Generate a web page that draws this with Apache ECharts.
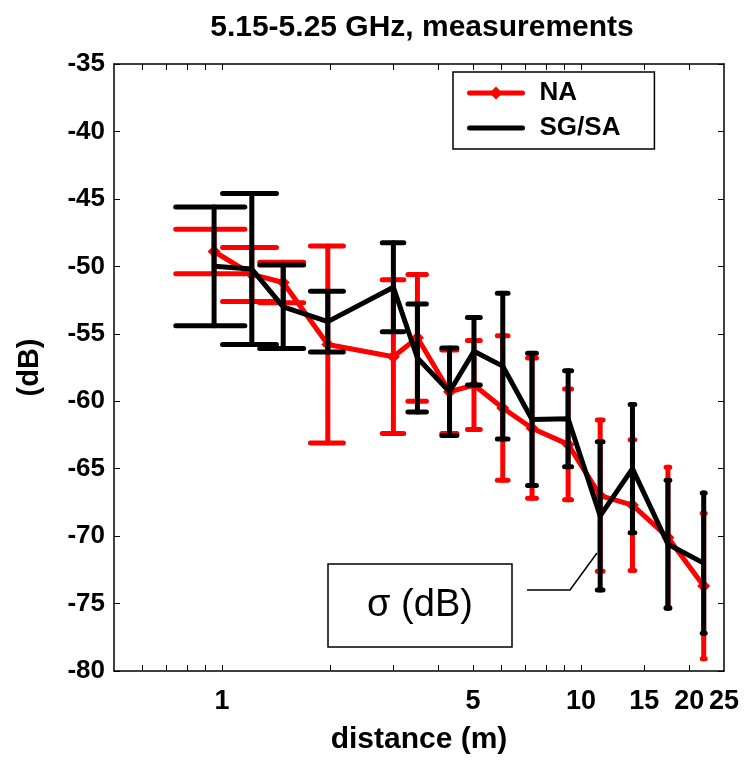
<!DOCTYPE html>
<html>
<head>
<meta charset="utf-8">
<script src="https://cdn.jsdelivr.net/npm/echarts@6/dist/echarts.min.js"></script>
<style>
  html, body { margin: 0; padding: 0; background: #fff; }
  #main { width: 744px; height: 760px; }
</style>
</head>
<body>
<div id="main"></div>
<script>
// distance of each measurement point (m)
const distance = [0.95, 1.21, 1.48, 1.97, 3.0, 3.5, 4.3, 5.03, 6.05, 7.3, 9.2, 11.3, 13.9, 17.45, 21.95];
// NA: mean and std dev (dB)
const naMean  = [-48.9, -50.6, -51.2, -55.8, -56.7, -55.3, -59.3, -58.8, -60.5, -62.0, -63.2, -67.0, -67.7, -70.1, -73.7];
const naSigma = [1.65, 2.0, 1.5, 7.3, 5.7, 4.7, 3.1, 3.3, 5.35, 5.2, 4.1, 5.6, 4.85, 5.2, 5.4];
// SG/SA: mean and std dev (dB)
const sgMean  = [-50.0, -50.2, -53.0, -54.1, -51.55, -56.8, -59.3, -56.3, -57.4, -61.35, -61.3, -68.5, -65.0, -70.6, -72.0];
const sgSigma = [4.4, 5.6, 3.1, 2.25, 3.3, 4.0, 3.25, 2.5, 5.4, 4.9, 3.55, 5.5, 4.75, 4.75, 5.2];

const xLabelValues = [1, 5, 10, 15, 20, 25];
const xTickValues = [0.6, 0.7, 0.8, 0.9, 1, 2, 3, 4, 5, 6, 7, 8, 9, 10, 15, 20];
const capHalf = 0.207; // tee half width, in metres (matlab style)

const FONT = 'Liberation Sans, Arial, sans-serif';

var chartDom = document.getElementById('main');
var myChart = echarts.init(chartDom, null, { renderer: 'canvas' });

function errRender(color) {
  return function (params, api) {
    const x = api.value(0), m = api.value(1), s = api.value(2);
    const hi = api.coord([x, m + s]);
    const lo = api.coord([x, m - s]);
    const hl = api.coord([x - capHalf, m + s]), hr = api.coord([x + capHalf, m + s]);
    const ll = api.coord([x - capHalf, m - s]), lr = api.coord([x + capHalf, m - s]);
    const style = { stroke: color, lineWidth: 5, lineCap: 'round' };
    return {
      type: 'group',
      children: [
        { type: 'line', shape: { x1: hi[0], y1: hi[1], x2: lo[0], y2: lo[1] }, style: style },
        { type: 'line', shape: { x1: hl[0], y1: hl[1], x2: hr[0], y2: hr[1] }, style: style },
        { type: 'line', shape: { x1: ll[0], y1: ll[1], x2: lr[0], y2: lr[1] }, style: style }
      ]
    };
  };
}

const zip3 = (a, b, c) => a.map((v, i) => [v, b[i], c[i]]);
const zip2 = (a, b) => a.map((v, i) => [v, b[i]]);

const logAxis = {
  type: 'log',
  logBase: 10,
  min: 0.5,
  max: 25,
  axisLine: { show: true, onZero: false, lineStyle: { color: '#000', width: 1.5 } },
  splitLine: { show: false },
  minorTick: { show: false }
};

var option = {
  backgroundColor: '#fff',
  animation: false,
  title: {
    text: '5.15-5.25 GHz, measurements',
    left: 417,
    top: 8,
    textAlign: 'center',
    textStyle: { fontFamily: FONT, fontSize: 30, fontWeight: 'bold', color: '#000' }
  },
  grid: { left: 114, right: 20, top: 64, bottom: 86, containLabel: false },
  legend: {
    data: [
      { name: 'NA' },
      { name: 'SG/SA', itemStyle: { opacity: 0 } }
    ],
    orient: 'vertical',
    left: 453,
    top: 72,
    padding: [8, 34, 8, 14],
    itemWidth: 53,
    itemHeight: 16,
    itemGap: 9,
    borderColor: '#000',
    borderWidth: 1.5,
    backgroundColor: '#fff',
    lineStyle: { width: 5, cap: 'round' },
    textStyle: { fontFamily: FONT, fontSize: 26, fontWeight: 'bold', color: '#000', lineHeight: 26, padding: [0, 0, 0, 12] }
  },
  xAxis: [
    Object.assign({}, logAxis, {
      position: 'bottom',
      name: 'distance (m)',
      nameLocation: 'middle',
      nameGap: 54,
      nameTextStyle: { fontFamily: FONT, fontSize: 30, fontWeight: 'bold', color: '#000' },
      axisTick: { show: true, inside: true, length: 6, customValues: xTickValues, lineStyle: { color: '#000', width: 1 } },
      axisLabel: {
        show: true, customValues: xLabelValues, margin: 17,
        fontFamily: FONT, fontSize: 27, fontWeight: 'bold', color: '#000',
        formatter: v => String(Math.round(v))
      }
    }),
    Object.assign({}, logAxis, {
      position: 'top',
      axisTick: { show: true, inside: true, length: 6, customValues: xTickValues, lineStyle: { color: '#000', width: 1 } },
      axisLabel: { show: false }
    })
  ],
  yAxis: [
    {
      type: 'value',
      min: -80,
      max: -35,
      interval: 5,
      position: 'left',
      name: '(dB)',
      nameLocation: 'middle',
      nameGap: 70,
      nameRotate: 90,
      nameTextStyle: { fontFamily: FONT, fontSize: 29, fontWeight: 'bold', color: '#000' },
      axisLine: { show: true, onZero: false, lineStyle: { color: '#000', width: 1.5 } },
      axisTick: { show: true, inside: true, length: 6, lineStyle: { color: '#000' } },
      axisLabel: { margin: 9, fontFamily: FONT, fontSize: 26, fontWeight: 'bold', color: '#000' },
      splitLine: { show: false }
    },
    {
      type: 'value',
      min: -80,
      max: -35,
      interval: 5,
      position: 'right',
      axisLine: { show: true, onZero: false, lineStyle: { color: '#000', width: 1.5 } },
      axisTick: { show: true, inside: true, length: 6, lineStyle: { color: '#000' } },
      axisLabel: { show: false },
      splitLine: { show: false }
    }
  ],
  series: [
    {
      name: 'NA sigma',
      type: 'custom',
      renderItem: errRender('#ff0000'),
      data: zip3(distance, naMean, naSigma),
      encode: { x: 0, y: 1 },
      z: 2,
      silent: true
    },
    {
      name: 'NA',
      type: 'line',
      data: zip2(distance, naMean),
      symbol: 'diamond',
      symbolSize: 13,
      showSymbol: true,
      color: '#ff0000',
      itemStyle: { color: '#ff0000' },
      lineStyle: { color: '#ff0000', width: 5 },
      z: 3
    },
    {
      name: 'SG/SA sigma',
      type: 'custom',
      renderItem: errRender('#000000'),
      data: zip3(distance, sgMean, sgSigma),
      encode: { x: 0, y: 1 },
      z: 4,
      silent: true
    },
    {
      name: 'SG/SA',
      type: 'line',
      data: zip2(distance, sgMean),
      symbol: 'none',
      color: '#000000',
      itemStyle: { color: '#000000' },
      lineStyle: { color: '#000000', width: 5 },
      z: 5
    }
  ],
  graphic: [
    {
      type: 'rect',
      shape: { x: 328, y: 564, width: 184, height: 83 },
      style: { fill: '#fff', stroke: '#000', lineWidth: 1.5 },
      z: 10
    },
    {
      type: 'text',
      x: 420,
      y: 606,
      style: {
        text: 'σ (dB)', fontFamily: FONT, fontSize: 38, fill: '#000',
        textAlign: 'center', textVerticalAlign: 'middle'
      },
      z: 11
    },
    {
      type: 'polyline',
      shape: { points: [[527, 590], [570, 590], [597, 553]] },
      style: { stroke: '#000', lineWidth: 1.5, fill: null },
      z: 10
    }
  ]
};

option && myChart.setOption(option, true);
window.onresize = () => {
  myChart.resize();
};
</script>
</body>
</html>
